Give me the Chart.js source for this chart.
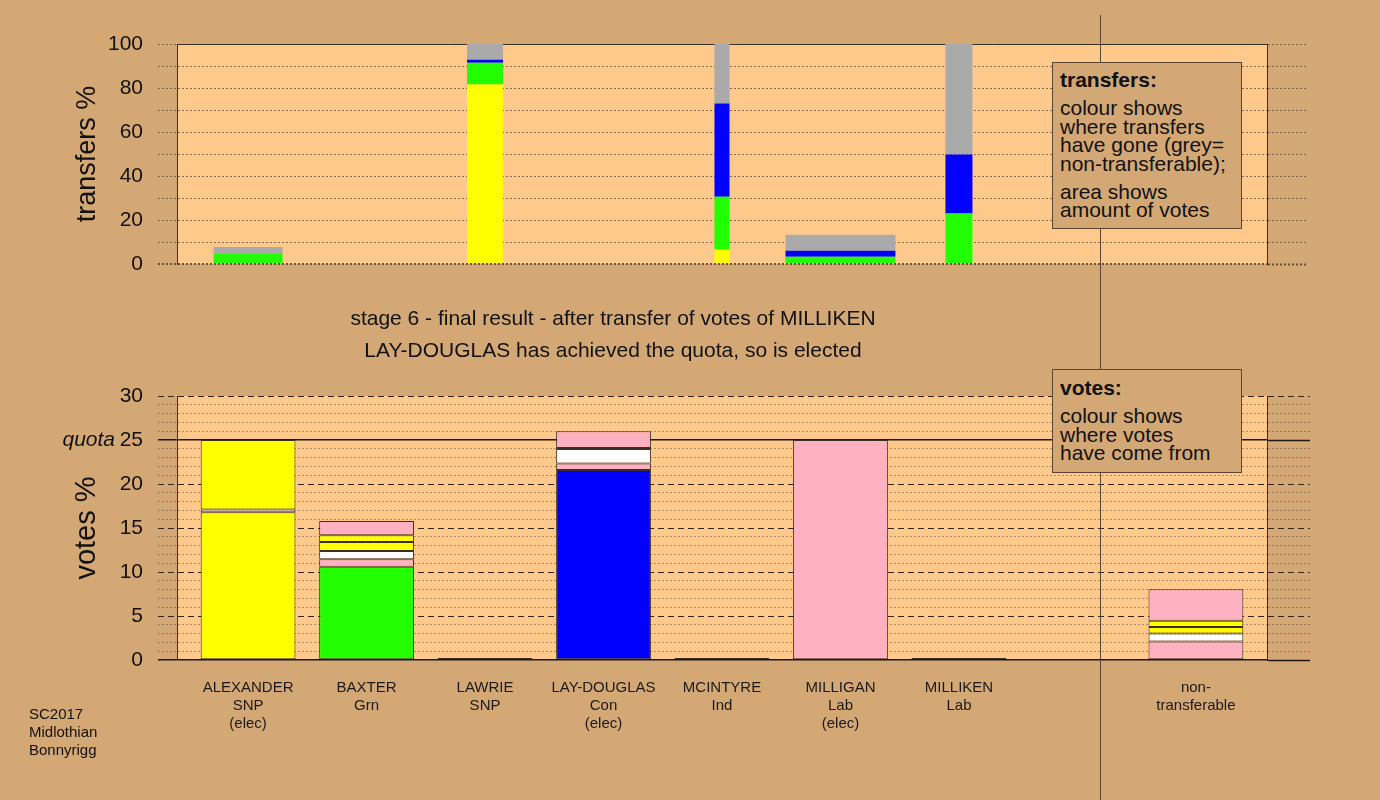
<!DOCTYPE html>
<html>
<head>
<meta charset="utf-8">
<script src="https://cdn.jsdelivr.net/npm/chart.js@4.4.0/dist/chart.umd.min.js"></script>
<style>
html,body{margin:0;padding:0;background:#d4a874;}
#wrap{position:relative;width:1380px;height:800px;overflow:hidden;background:#d4a874;font-family:"Liberation Sans",Arial,sans-serif;color:#111;}
canvas{position:absolute;left:0;}
#cTop{top:0;}
#cBot{top:300px;}
.vline{position:absolute;left:1100px;top:15px;width:1px;height:785px;background:#5a4632;z-index:2;}
.box{position:absolute;left:1052px;width:190px;background:#d4a874;border:1px solid #5a4632;font-size:21px;line-height:18.5px;padding-left:7px;box-sizing:border-box;z-index:3;}
.box b{display:block;}
.box p{margin:0;}
.ttl{position:absolute;left:0;width:1226px;text-align:center;font-size:21px;line-height:24px;z-index:3;}
.src{position:absolute;left:29px;top:705px;font-size:15px;line-height:18px;z-index:3;}
</style>
</head>
<body>
<div id="wrap">
  <canvas id="cTop" width="1380" height="300"></canvas>
  <canvas id="cBot" width="1380" height="500"></canvas>
  <div class="vline"></div>
  <div class="box" style="top:62px;height:167px;padding-top:8px;">
    <b>transfers:</b>
    <p style="margin-top:9.5px;">colour shows<br>where transfers<br>have gone (grey=<br>non-transferable);</p>
    <p style="margin-top:9.5px;">area shows<br>amount of votes</p>
  </div>
  <div class="box" style="top:369px;height:104px;padding-top:9px;">
    <b>votes:</b>
    <p style="margin-top:9.5px;">colour shows<br>where votes<br>have come from</p>
  </div>
  <div class="ttl" style="top:306px;">stage 6 - final result - after transfer of votes of MILLIKEN</div>
  <div class="ttl" style="top:338px;">LAY-DOUGLAS has achieved the quota, so is elected</div>
  <div class="src">SC2017<br>Midlothian<br>Bonnyrigg</div>
</div>
<script>
// ---------- DATA ----------
const candidateNames   = ['ALEXANDER','BAXTER','LAWRIE','LAY-DOUGLAS','MCINTYRE','MILLIGAN','MILLIKEN'];
const candidateParties = ['SNP','Grn','SNP','Con','Ind','Lab','Lab'];
const candidateElected = [true,false,false,true,false,true,false];
const nonTransferableLabel = ['non-','transferable'];
const quota = 25;

// bottom chart: votes % by origin (index 7 = gap, index 8 = non-transferable)
const firstPreferences = [16.8, 10.6, 0, 21.6, 0, 25.0, 0, null, null];
const fromMilligan     = [0,    0.84, 0, 0.72, 0, 0,    0, null, 2.1];
const fromMcintyre     = [0.3,  0.96, 0, 1.65, 0, 0,    0, null, 0.9];
const fromLawrie       = [7.9,  1.0,  0, 0.13, 0, 0,    0, null, 0.75];
const fromAlexander    = [0,    0.77, 0, 0,    0, 0,    0, null, 0.7];
const fromMilliken     = [0,    1.63, 0, 1.9,  0, 0,    0, null, 3.6];
const voteSegments = [firstPreferences, fromMilligan, fromMcintyre, fromLawrie, fromAlexander, fromMilliken];
const voteSegmentParty = [null, 'Lab', 'Ind', 'SNP', 'SNP', 'Lab'];

// top chart: transfers % (where transfers have gone)
const transferSources   = [0, 2, 4, 5, 6]; // ALEXANDER, LAWRIE, MCINTYRE, MILLIGAN, MILLIKEN
const transferToSNP     = [0,   81.6, 6.5,  0,   0];
const transferToGrn     = [4.5, 9.9,  24.1, 3.3, 22.9];
const transferToCon     = [0,   1.3,  42.3, 2.7, 26.9];
const transferNonTrans  = [3.2, 7.2,  27.1, 7.3, 50.2];
const yTicksTransfers = [0,20,40,60,80,100];
const yTicksVotes = [0,5,10,15,20,25,30];

// ---------- STYLE ----------
const FONT = "'Liberation Sans', Arial, sans-serif";
Chart.defaults.font.family = FONT;
const partyColour = {SNP:'#ffff00', Grn:'#22ff00', Con:'#0000ff', Ind:'#ffffff', Lab:'#ffb0c1', NT:'#aaaaaa'};
const transferBarFraction = [0.582, 0.304, 0.127, 0.928, 0.228];
const plotFill = '#ffc98c';
const lineDark = '#3b2e22';

const categoryLabels = candidateNames.map((n,i)=> candidateElected[i] ? [n, candidateParties[i], '(elec)'] : [n, candidateParties[i]]);
categoryLabels.push(['']);
categoryLabels.push(nonTransferableLabel);

const plotBg = {
  id:'plotBg',
  beforeDraw(chart){
    const a = chart.chartArea, c = chart.ctx;
    c.save(); c.fillStyle = plotFill; c.fillRect(a.left, a.top, a.right-a.left, a.bottom-a.top); c.restore();
  }
};
const quotaLabel = {
  id:'quotaLabel',
  afterDraw(chart){
    const y = chart.scales.y.getPixelForValue(quota), c = chart.ctx;
    c.save(); c.font = 'italic 21px ' + FONT; c.fillStyle = '#111'; c.textAlign = 'right'; c.textBaseline = 'middle';
    c.fillText('quota', 115, y); c.restore();
  }
};
const fixTicks = scale => { scale.ticks = categoryLabels.map((_, i) => ({value:i})); };
const xCommon = {type:'linear', min:-0.6, max:8.6, offset:false, stacked:true, afterBuildTicks: fixTicks};

// ---------- TOP CHART ----------
const transferColours = [partyColour.SNP, partyColour.Grn, partyColour.Con, partyColour.NT];
const transferSeries = [transferToSNP, transferToGrn, transferToCon, transferNonTrans];
const topDatasets = [];
transferSources.forEach((src, k) => {
  transferSeries.forEach((series, j) => {
    topDatasets.push({
      data:[{x:src, y:series[k]}],
      backgroundColor: transferColours[j],
      borderWidth:0,
      stack:'s'+src,
      grouped:false,
      categoryPercentage:1,
      barPercentage: transferBarFraction[k]
    });
  });
});

const topGridColour = v => v===100 ? lineDark : (v===0 ? '#6a5038' : 'rgba(95,75,55,0.75)');
const topDash = ctx => { if(!ctx.tick) return []; const v = ctx.tick.value; return v===100 ? [] : [2,2]; };
const topTickColour = v => v===0 ? '#6a5038' : 'rgba(95,75,55,0.75)';

new Chart(document.getElementById('cTop'), {
  type:'bar',
  data:{datasets: topDatasets},
  options:{
    responsive:false, animation:false,
    layout:{padding:{left:60, top:44, right:0, bottom:36}},
    plugins:{legend:{display:false}, tooltip:{enabled:false}},
    scales:{
      x: Object.assign({display:false}, xCommon),
      y:{
        stacked:true, min:0, max:100,
        afterBuildTicks: s => { s.ticks = Array.from({length:11}, (_, i) => ({value:i*10})); },
        ticks:{autoSkip:false, padding:15, color:'#111', font:{size:21}, callback: v => yTicksTransfers.includes(v) ? String(v) : ''},
        grid:{tickLength:19, color: c => topGridColour(c.tick.value), tickColor: c => topTickColour(c.tick.value),
              lineWidth: c => c.tick.value===0 ? 2 : 1, tickBorderDash: [2,2]},
        border:{display:true, color:lineDark, width:1, dash: topDash},
        title:{display:true, text:'transfers %', color:'#111', font:{size:27}, padding:{top:11, bottom:0}},
        afterFit: s => { s.width = 117; }
      },
      yR:{
        position:'right', min:0, max:100,
        afterBuildTicks: s => { s.ticks = Array.from({length:11}, (_, i) => ({value:i*10})); },
        ticks:{display:false, autoSkip:false},
        grid:{drawOnChartArea:false, tickLength:41, tickColor: c => topTickColour(c.tick.value), tickBorderDash: [2,2],
              tickWidth: c => c.tick.value===0 ? 2 : 1},
        border:{display:true, color:lineDark, width:1},
        afterFit: s => { s.width = 113; }
      }
    }
  },
  plugins:[plotBg]
});

// ---------- BOTTOM CHART ----------
const botDatasets = voteSegments.map((series, j) => {
  const pts = [];
  series.forEach((v, i) => { if (v !== null) pts.push({x:i, y:v}); });
  const bg = j === 0
    ? pts.map(p => partyColour[candidateParties[p.x]])
    : partyColour[voteSegmentParty[j]];
  return {
    data: pts,
    backgroundColor: bg,
    borderColor: lineDark,
    borderWidth: 1,
    borderSkipped: false,
    minBarLength: j === 0 ? 2 : 0,
    categoryPercentage: 1,
    barPercentage: 0.8,
    stack:'votes'
  };
});

const botGridColour = v => (v===0 || v===quota) ? '#1e1812' : (v%5===0 ? '#2e2419' : 'rgba(110,88,64,0.55)');
const botDash = ctx => { if(!ctx.tick) return []; const v = ctx.tick.value; if (v===0 || v===quota) return []; return v%5===0 ? [6,4] : [2,2]; };
const voteTicks = s => { s.ticks = Array.from({length:31}, (_, i) => ({value:i})); };

new Chart(document.getElementById('cBot'), {
  type:'bar',
  data:{datasets: botDatasets},
  options:{
    responsive:false, animation:false,
    layout:{padding:{left:60, top:96, right:0, bottom:0}},
    plugins:{legend:{display:false}, tooltip:{enabled:false}},
    scales:{
      x: Object.assign({
        ticks:{autoSkip:false, maxRotation:0, padding:19, color:'#1a1a1a', font:{size:15, lineHeight:1.2},
               callback: v => categoryLabels[v]},
        grid:{display:false, drawTicks:false},
        border:{display:false},
        afterFit: s => { s.height = 140; }
      }, xCommon),
      y:{
        stacked:true, min:0, max:30,
        afterBuildTicks: voteTicks,
        ticks:{autoSkip:false, padding:15, color:'#111', font:{size:21}, callback: v => yTicksVotes.includes(v) ? String(v) : ''},
        grid:{tickLength:19, color: c => botGridColour(c.tick.value), tickColor: c => botGridColour(c.tick.value),
              lineWidth: c => (c.tick.value===0 || c.tick.value===quota) ? 1.5 : 1,
              tickWidth: c => (c.tick.value===0 || c.tick.value===quota) ? 1.5 : 1,
              tickBorderDash: botDash},
        border:{display:true, color:lineDark, width:1, dash: botDash},
        title:{display:true, text:'votes %', color:'#111', font:{size:29}, padding:{top:10, bottom:0}},
        afterFit: s => { s.width = 117; }
      },
      yR:{
        position:'right', min:0, max:30,
        afterBuildTicks: voteTicks,
        ticks:{display:false, autoSkip:false},
        grid:{drawOnChartArea:false, tickLength:43, tickColor: c => botGridColour(c.tick.value), tickBorderDash: botDash,
              tickWidth: c => (c.tick.value===0 || c.tick.value===quota) ? 1.5 : 1},
        border:{display:true, color:lineDark, width:1},
        afterFit: s => { s.width = 113; }
      }
    }
  },
  plugins:[plotBg, quotaLabel]
});
</script>
</body>
</html>
